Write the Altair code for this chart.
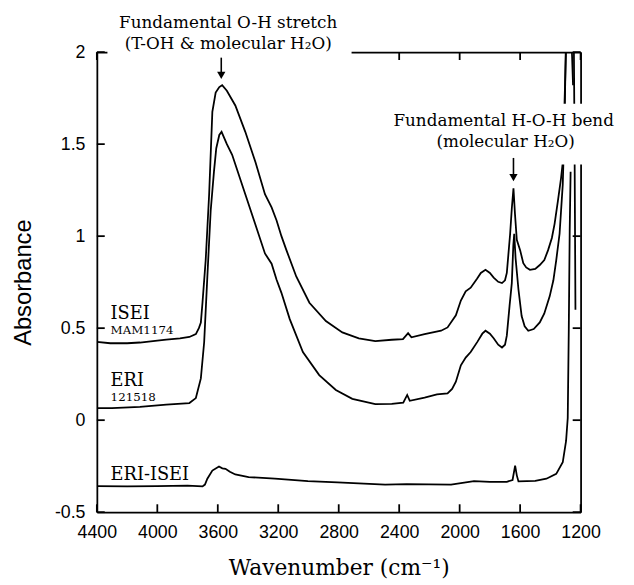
import altair as alt
import pandas as pd

# ---------------- data ----------------
isei_wn = [4400, 4311, 4200, 4115, 4000, 3941, 3850, 3788, 3745, 3725, 3712, 3701, 3680, 3657,
           3636, 3614, 3590, 3571, 3540, 3484, 3418, 3350, 3288, 3244, 3211, 3179, 3146, 3081,
           2994, 2885, 2776, 2667, 2558, 2449, 2375, 2341, 2319, 2232, 2123, 2080, 2025, 1992,
           1960, 1927, 1884, 1860, 1829, 1800, 1775, 1745, 1720, 1700, 1688, 1666, 1655, 1644,
           1634, 1622, 1600, 1579, 1560, 1535, 1500, 1470, 1440, 1415, 1390, 1372, 1350, 1329,
           1318, 1306, 1296, 1290, 1262, 1256, 1250]
isei_abs = [0.425, 0.418, 0.418, 0.422, 0.432, 0.438, 0.445, 0.452, 0.468, 0.50, 0.53, 0.64, 0.87, 1.23,
            1.675, 1.78, 1.81, 1.82, 1.79, 1.71, 1.567, 1.40, 1.228, 1.156, 1.085, 1.0, 0.924, 0.781,
            0.638, 0.539, 0.477, 0.445, 0.43, 0.437, 0.44, 0.473, 0.45, 0.468, 0.486, 0.504, 0.57, 0.65,
            0.70, 0.72, 0.77, 0.80, 0.817, 0.80, 0.775, 0.752, 0.745, 0.76, 0.80, 1.013, 1.15, 1.26,
            1.12, 0.98, 0.924, 0.853, 0.83, 0.817, 0.822, 0.843, 0.87, 0.924, 0.99, 1.067, 1.192, 1.317,
            1.40, 1.73, 2.02, 2.1, 2.1, 1.97, 1.82]

eri_wn = [4400, 4300, 4115, 3941, 3788, 3745, 3712, 3690, 3669, 3647, 3625, 3610, 3590, 3575,
          3540, 3505, 3418, 3353, 3288, 3244, 3211, 3179, 3124, 3037, 2929, 2819, 2710, 2558,
          2449, 2373, 2347, 2330, 2232, 2150, 2080, 2050, 2025, 1992, 1960, 1927, 1884, 1850,
          1829, 1800, 1775, 1745, 1720, 1700, 1688, 1670, 1655, 1645, 1639, 1630, 1611, 1590,
          1570, 1546, 1510, 1470, 1440, 1404, 1380, 1361, 1339, 1318, 1306, 1298, 1292, 1245,
          1240, 1234]
eri_abs = [0.066, 0.066, 0.072, 0.084, 0.093, 0.12, 0.227, 0.425, 0.78, 1.138, 1.353, 1.478, 1.55, 1.567,
           1.50, 1.442, 1.228, 1.067, 0.906, 0.85, 0.763, 0.692, 0.549, 0.37, 0.245, 0.164, 0.116, 0.087,
           0.089, 0.095, 0.137, 0.105, 0.123, 0.14, 0.146, 0.17, 0.209, 0.298, 0.34, 0.37, 0.424, 0.47,
           0.486, 0.47, 0.445, 0.41, 0.395, 0.41, 0.459, 0.62, 0.745, 0.95, 1.013, 0.88, 0.71, 0.566,
           0.51, 0.486, 0.495, 0.531, 0.58, 0.674, 0.76, 0.87, 1.013, 1.28, 1.62, 2.02, 2.1, 2.1,
           1.5, 0.6]

diff_wn = [4400, 4200, 4000, 3800, 3701, 3685, 3669, 3636, 3592, 3570, 3549, 3520, 3484, 3396,
           3222, 3004, 2808, 2493, 2350, 2057, 1905, 1800, 1688, 1650, 1633, 1622, 1611, 1500,
           1426, 1361, 1318, 1296, 1285, 1278, 1272, 1266]
diff_abs = [-0.359, -0.36, -0.358, -0.356, -0.36, -0.35, -0.318, -0.274, -0.252, -0.262, -0.264, -0.28,
            -0.295, -0.309, -0.318, -0.331, -0.338, -0.35, -0.348, -0.35, -0.331, -0.335, -0.335, -0.325,
            -0.247, -0.30, -0.333, -0.33, -0.318, -0.292, -0.229, -0.113, 0.012, 0.5, 1.03, 1.35]

x_ticks = [4400, 4000, 3600, 3200, 2800, 2400, 2000, 1600, 1200]
y_ticks = [-0.5, 0, 0.5, 1, 1.5, 2]

# series labels
lab_text = ["ISEI", "ERI", "ERI-ISEI"]
lab_x = [4309, 4309, 4309]
lab_y = [0.549, 0.184, -0.325]
sub_text = ["MAM1174", "121518"]
sub_x = [4309, 4309]
sub_y = [0.468, 0.104]

# peak annotations
ann_text = ["Fundamental O-H stretch", "(T-OH & molecular H\u2082O)",
            "Fundamental H-O-H bend", "(molecular H\u2082O)"]
ann_x = [3531, 3531, 1709, 1696]
ann_y = [2.130, 2.018, 1.600, 1.482]
arrow_x = [3577, 1644]
arrow_top = [1.97, 1.425]
arrow_bot = [1.885, 1.335]
arrow_head = [1.874, 1.318]

# white boxes behind the annotation text
box_x1 = [4330, 2500]
box_x2 = [2715, 870]
box_y1 = [1.952, 1.39]
box_y2 = [2.28, 1.72]

# ---------------- tables ----------------
rows = []
for name, wns, abss in [("ISEI", isei_wn, isei_abs), ("ERI", eri_wn, eri_abs),
                        ("ERI-ISEI", diff_wn, diff_abs)]:
    for i, (w, a) in enumerate(zip(wns, abss)):
        rows.append({"series": name, "idx": i, "wn": w, "ab": a})
df = pd.DataFrame(rows)

lab_df = pd.DataFrame({"t": lab_text, "x": lab_x, "y": lab_y})
sub_df = pd.DataFrame({"t": sub_text, "x": sub_x, "y": sub_y})
ann_df = pd.DataFrame({"t": ann_text, "x": ann_x, "y": ann_y})
arr_df = pd.DataFrame({"x": arrow_x, "top": arrow_top, "bot": arrow_bot, "head": arrow_head})
box_df = pd.DataFrame({"x1": box_x1, "x2": box_x2, "y1": box_y1, "y2": box_y2})
xt_df = pd.DataFrame({"v": x_ticks})
yt_df = pd.DataFrame({"v": y_ticks})

W, H, TL = 490, 466, 8

xscale = alt.Scale(domain=[4400, 1200], nice=False, zero=False)
yscale = alt.Scale(domain=[-0.5, 2], nice=False, zero=False)

x_bottom = alt.Axis(orient="bottom", values=x_ticks, format="d", ticks=False, labelPadding=12,
                    title="Wavenumber (cm\u207b\u00b9)", titleFont="DejaVu Serif", titleFontSize=22,
                    titleFontWeight="normal", titlePadding=16, labelFont="Liberation Sans",
                    labelFontSize=18, zindex=0, labelFlush=False, labelOverlap=False)
y_left = alt.Axis(orient="left", values=y_ticks, format="~g", ticks=False, labelPadding=12,
                  labelExpr="replace(datum.label, '\u2212', '-')",
                  title="Absorbance", titleFont="Liberation Sans", titleFontSize=24,
                  titleFontWeight="normal", titlePadding=19, labelFont="Liberation Sans",
                  labelFontSize=18, zindex=0, labelFlush=False, labelOverlap=False)
x_top = alt.Axis(orient="top", values=x_ticks, ticks=False, labels=False, title=None, zindex=0)
y_right = alt.Axis(orient="right", values=y_ticks, ticks=False, labels=False, title=None, zindex=0)

lines = alt.Chart(df).mark_line(color="black", strokeWidth=1.8, clip=True).encode(
    x=alt.X("wn:Q", scale=xscale, axis=x_bottom),
    y=alt.Y("ab:Q", scale=yscale, axis=y_left),
    detail="series:N",
    order="idx:Q",
)

# inward tick marks on all four sides (from the tick value lists)
tick_style = dict(color="black", strokeWidth=1.8)
xt_bottom = alt.Chart(xt_df).mark_rule(**tick_style).encode(
    x=alt.X("v:Q", scale=xscale, axis=None), y=alt.value(H), y2=alt.value(H - TL))
xt_top = alt.Chart(xt_df).mark_rule(**tick_style).encode(
    x=alt.X("v:Q", scale=xscale, axis=None), y=alt.value(0), y2=alt.value(TL))
yt_left = alt.Chart(yt_df).mark_rule(**tick_style).encode(
    y=alt.Y("v:Q", scale=yscale, axis=None), x=alt.value(0), x2=alt.value(TL))
yt_right = alt.Chart(yt_df).mark_rule(**tick_style).encode(
    y=alt.Y("v:Q", scale=yscale, axis=None), x=alt.value(W), x2=alt.value(W - TL))

boxes = alt.Chart(box_df).mark_rect(color="white").encode(
    x=alt.X("x1:Q", scale=xscale, axis=x_top), x2="x2:Q",
    y=alt.Y("y1:Q", scale=yscale, axis=y_right), y2="y2:Q",
)

labels = alt.Chart(lab_df).mark_text(font="DejaVu Serif", fontSize=18, align="left",
                                     baseline="alphabetic", color="black").encode(
    x=alt.X("x:Q", scale=xscale, axis=None), y=alt.Y("y:Q", scale=yscale, axis=None), text="t:N")

sublabels = alt.Chart(sub_df).mark_text(font="DejaVu Serif", fontSize=12, align="left",
                                        baseline="alphabetic", color="black").encode(
    x=alt.X("x:Q", scale=xscale, axis=None), y=alt.Y("y:Q", scale=yscale, axis=None), text="t:N")

anns = alt.Chart(ann_df).mark_text(font="DejaVu Serif", fontSize=17, align="center",
                                   baseline="alphabetic", color="black").encode(
    x=alt.X("x:Q", scale=xscale, axis=None), y=alt.Y("y:Q", scale=yscale, axis=None), text="t:N")

shafts = alt.Chart(arr_df).mark_rule(color="black", strokeWidth=1.6).encode(
    x=alt.X("x:Q", scale=xscale, axis=None), y=alt.Y("top:Q", scale=yscale, axis=None), y2="bot:Q")

heads = alt.Chart(arr_df).mark_point(shape="triangle-down", filled=True, color="black",
                                     size=70, opacity=1).encode(
    x=alt.X("x:Q", scale=xscale, axis=None), y=alt.Y("head:Q", scale=yscale, axis=None))

chart = alt.layer(lines, xt_bottom, xt_top, yt_left, yt_right, boxes, labels, sublabels,
                  anns, shafts, heads).resolve_axis(
    x="independent", y="independent"
).properties(
    width=W, height=H,
    autosize=alt.AutoSizeParams(type="none"),
    padding={"left": 90, "top": 41, "right": 46, "bottom": 65},
    background="white",
).configure_view(stroke=None).configure_axis(
    domainColor="black", domainWidth=1.8,
    labelColor="black", titleColor="black", grid=False,
)

chart.save("out.html", embed_options={"renderer": "svg", "actions": False})
